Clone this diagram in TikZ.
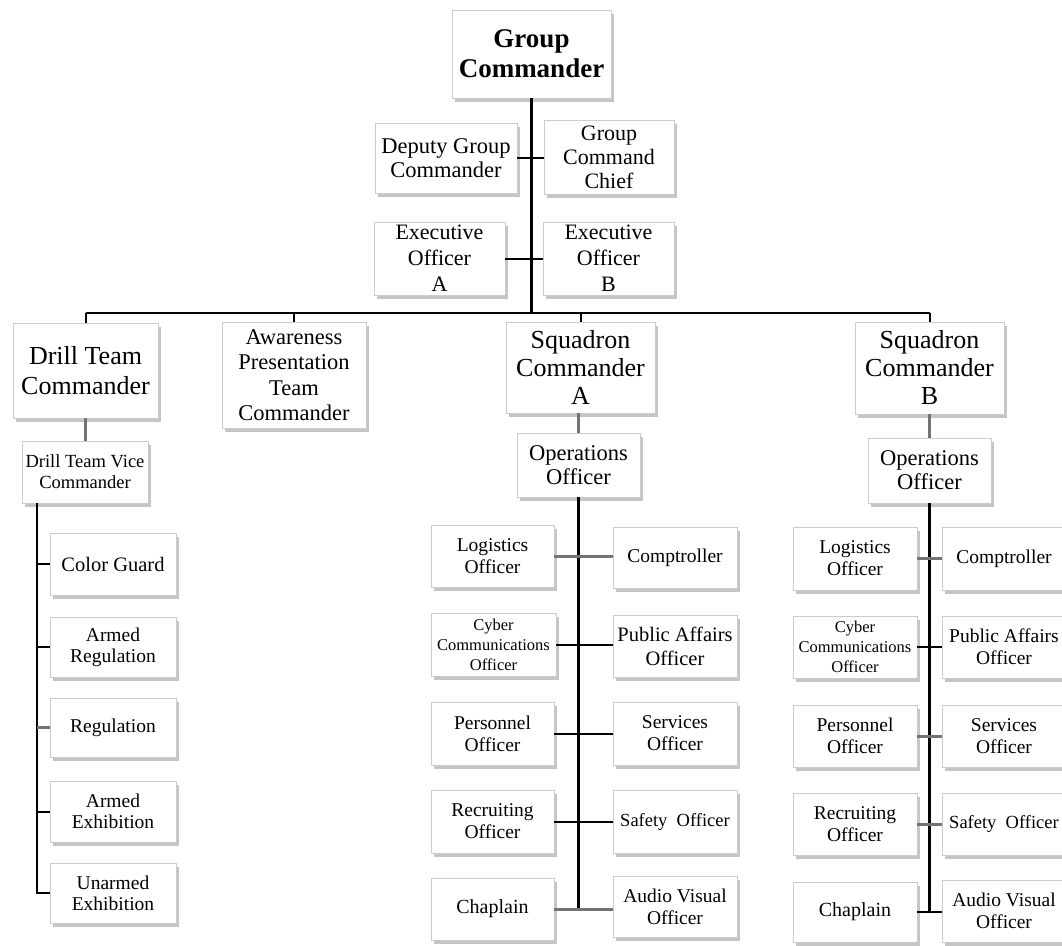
\documentclass[tikz,border=0pt]{standalone}
\usepackage{fontspec}
\setmainfont{Liberation Serif}
\usetikzlibrary{shadows}
\tikzset{
  box/.style={draw=gray!40, line width=0.9pt, fill=white, align=center, inner sep=0pt,
    drop shadow={shadow xshift=2.5pt, shadow yshift=-3.5pt, fill=black!45, opacity=0.5}},
  ln/.style={line width=2pt, black},
  gln/.style={line width=3pt, black!55},
  trunk/.style={line width=3.8pt, black},
  bus/.style={line width=2.6pt, black},
  spine/.style={line width=2.8pt, black, line join=miter}
}
\newcommand\fsz[2]{\fontsize{#1}{#2}\selectfont}
\newcommand\obox[7]{\node[box,minimum width={(#4-#2)*1pt},minimum height={(#5-#3)*1pt},font={#7}] (#1) at ({(#2+#4)/2},{(#3+#5)/2}) {#6};}
\begin{document}
\begin{tikzpicture}[x=1pt,y=-1pt]
\useasboundingbox (0,0) rectangle (1062,945);
\clip (0,0) rectangle (1062,945);
% top
\obox{gc}{452}{10}{611}{98}{\textbf{Group}\\\textbf{Commander}}{\fsz{27}{30}}
\obox{dgc}{375}{123}{517}{193}{Deputy Group\\Commander}{\fsz{22.5}{24}}
\obox{gcc}{544}{120}{674}{194}{Group\\Command\\Chief}{\fsz{22}{24}}
\obox{exa}{374}{222}{505}{295}{Executive\\Officer\\A}{\fsz{22}{26}}
\obox{exb}{543}{222}{674}{295}{Executive\\Officer\\B}{\fsz{22}{26}}
% second level
\obox{dtc}{13}{323}{158}{418}{Drill Team\\Commander}{\fsz{26}{30}}
\obox{apt}{222}{322}{366}{428}{Awareness\\Presentation\\Team\\Commander}{\fsz{22.5}{25.5}}
\obox{sqa}{506}{322}{655}{413}{Squadron\\Commander\\A}{\fsz{26}{28}}
\obox{sqb}{855}{322}{1004}{414}{Squadron\\Commander\\B}{\fsz{26}{28}}
% drill team
\obox{dvc}{22}{441}{148}{503}{Drill Team Vice\\Commander}{\fsz{18.5}{21}}
\obox{cg}{50}{533}{176}{595}{Color Guard}{\fsz{20.5}{22}}
\obox{ar}{50}{617}{176}{677}{Armed\\Regulation}{\fsz{19.5}{21}}
\obox{rg}{50}{698}{176}{757}{Regulation}{\fsz{19.5}{21}}
\obox{ae}{50}{781}{176}{842}{Armed\\Exhibition}{\fsz{19.5}{21}}
\obox{ue}{50}{863}{176}{923}{Unarmed\\Exhibition}{\fsz{19.5}{21}}
% squadron A
\obox{opa}{517}{433}{640}{497}{Operations\\Officer}{\fsz{22.5}{24}}
\obox{la}{431}{525}{554}{587}{Logistics\\Officer}{\fsz{19.5}{22}}
\obox{ca}{613}{527}{737}{588}{Comptroller}{\fsz{19.5}{22}}
\obox{cya}{431}{613}{556}{676}{Cyber\\Communications\\Officer}{\fsz{16.5}{20}}
\obox{pa}{613}{615}{737}{677}{Public Affairs\\Officer}{\fsz{20.5}{24}}
\obox{pea}{431}{702}{554}{765}{Personnel\\Officer}{\fsz{19.5}{22}}
\obox{sa}{613}{702}{737}{765}{Services\\Officer}{\fsz{19.5}{22}}
\obox{ra}{431}{790}{554}{853}{Recruiting\\Officer}{\fsz{19.5}{22}}
\obox{sfa}{613}{790}{737}{853}{Safety\ \ Officer}{\fsz{18.5}{22}}
\obox{cha}{431}{878}{554}{940}{Chaplain}{\fsz{20}{22}}
\obox{ava}{613}{876}{737}{937}{Audio Visual\\Officer}{\fsz{19.5}{22}}
% squadron B
\obox{opb}{868}{438}{991}{503}{Operations\\Officer}{\fsz{22.5}{24}}
\obox{lb}{793}{527}{917}{590}{Logistics\\Officer}{\fsz{19.5}{22}}
\obox{cb}{942}{527}{1066}{590}{Comptroller}{\fsz{19.5}{22}}
\obox{cyb}{793}{616}{917}{678}{Cyber\\Communications\\Officer}{\fsz{16.5}{20}}
\obox{pb}{942}{616}{1066}{678}{Public Affairs\\Officer}{\fsz{19.5}{22}}
\obox{peb}{793}{705}{917}{767}{Personnel\\Officer}{\fsz{19.5}{22}}
\obox{sb}{942}{705}{1066}{767}{Services\\Officer}{\fsz{19.5}{22}}
\obox{rb}{793}{793}{917}{855}{Recruiting\\Officer}{\fsz{19.5}{22}}
\obox{sfb}{942}{793}{1066}{855}{Safety\ \ Officer}{\fsz{18.5}{22}}
\obox{chb}{793}{882}{917}{942}{Chaplain}{\fsz{20}{22}}
\obox{avb}{942}{880}{1066}{942}{Audio Visual\\Officer}{\fsz{19.5}{22}}
% connectors top
\coordinate (J) at (531,313);
\draw[trunk] (gc.south) -- (gc.south |- J);
\draw[ln] (dgc.east) -- (dgc.east -| gcc.west);
\draw[ln] (exa.east) -- (exa.east -| exb.west);
\draw[bus] (dtc.north |- J) -- (sqb.north |- J);
\draw[ln] (dtc.north) -- (dtc.north |- J);
\draw[ln] (apt.north) -- (apt.north |- J);
\draw[ln] (sqa.north) -- (sqa.north |- J);
\draw[ln] (sqb.north) -- (sqb.north |- J);
% drill team connectors
\draw[gln] (dtc.south) -- (dtc.south |- dvc.north);
\coordinate (dsp) at (37,503);
\draw[spine] (dsp) |- (ue.west);
\draw[ln] (dsp |- cg.west) -- (cg.west);
\draw[ln] (dsp |- ar.west) -- (ar.west);
\draw[gln] (dsp |- rg.west) -- (rg.west);
\draw[ln] (dsp |- ae.west) -- (ae.west);
% squadron A connectors
\draw[gln] (opa.north |- sqa.south) -- (opa.north);
\draw[spine] (opa.south) -- (opa.south |- cha.east);
\draw[gln] (la.east) -- (la.east -| ca.west);
\draw[ln] (cya.east) -- (cya.east -| pa.west);
\draw[ln] (pea.east) -- (pea.east -| sa.west);
\draw[ln] (ra.east) -- (ra.east -| sfa.west);
\draw[gln] (cha.east) -- (cha.east -| ava.west);
% squadron B connectors
\draw[gln] (sqb.south) -- (opb.north);
\draw[spine] (opb.south) -- (opb.south |- chb.east);
\draw[gln] (lb.east) -- (lb.east -| cb.west);
\draw[ln] (cyb.east) -- (cyb.east -| pb.west);
\draw[gln] (peb.east) -- (peb.east -| sb.west);
\draw[gln] (rb.east) -- (rb.east -| sfb.west);
\draw[ln] (chb.east) -- (chb.east -| avb.west);
\end{tikzpicture}
\end{document}
